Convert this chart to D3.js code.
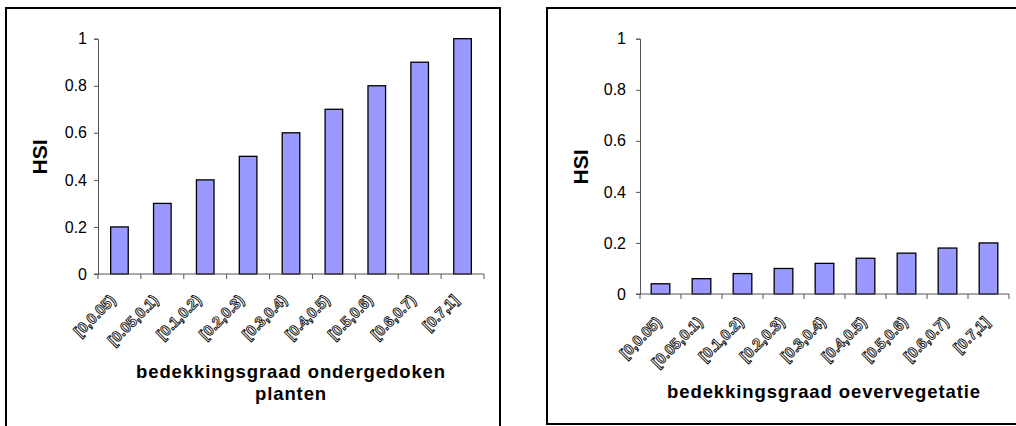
<!DOCTYPE html>
<html><head><meta charset="utf-8">
<script src="https://cdn.jsdelivr.net/npm/d3@7"></script>
<style>body{margin:0;background:#fff}svg{display:block}text{font-family:"Liberation Sans",Arial,sans-serif}</style>
</head><body>
<svg id="c" width="1016" height="426"></svg>
<script>
const categories = ["[0,0.05)", "[0.05,0.1)", "[0.1,0.2)", "[0.2,0.3)", "[0.3,0.4)", "[0.4,0.5)", "[0.5,0.6)", "[0.6,0.7)", "[0.7,1]"];
const hsiOndergedoken = [0.2, 0.3, 0.4, 0.5, 0.6, 0.7, 0.8, 0.9, 1.0];
const hsiOever = [0.04, 0.06, 0.08, 0.1, 0.12, 0.14, 0.16, 0.18, 0.2];
const yTicks = [0, 0.2, 0.4, 0.6, 0.8, 1];
const yLabel = "HSI";
const xTitleLeft = ["bedekkingsgraad ondergedoken", "planten"];
const xTitleRight = ["bedekkingsgraad oevervegetatie"];

const svg = d3.select("#c");

function panel(cfg) {
  svg.append("rect").attr("x", cfg.box[0]).attr("y", cfg.box[1]).attr("width", cfg.box[2]).attr("height", cfg.box[3])
    .attr("fill", "#fff").attr("stroke", "#000").attr("stroke-width", 2);
  const g = svg.append("g");
  const pi = cfg.padInner;
  const x = d3.scaleBand().domain(categories).range([cfg.x0, cfg.x1]).paddingInner(pi).paddingOuter(pi / 2);
  const xb = d3.scaleBand().domain(categories).range([cfg.x0, cfg.x1]);
  const y = d3.scaleLinear().domain([0, 1]).range([cfg.y0, cfg.y1]);
  g.selectAll("rect.bar").data(cfg.values).join("rect").attr("class", "bar")
    .attr("x", (d, i) => x(categories[i])).attr("width", x.bandwidth())
    .attr("y", d => y(d)).attr("height", d => y(0) - y(d))
    .attr("fill", "#9999ff").attr("stroke", "#000").attr("stroke-width", 1.3);
  const ya = g.append("g").attr("transform", `translate(${cfg.x0},0)`)
    .call(d3.axisLeft(y).tickValues(yTicks).tickFormat(d3.format("")).tickSize(4).tickPadding(cfg.ypad));
  ya.select(".domain").attr("stroke", "#555");
  ya.selectAll(".tick line").attr("stroke", "#555");
  ya.selectAll("text").attr("font-size", 16).attr("fill", "#000");
  const xTickPos = categories.map(c => xb(c)).concat([cfg.x1]);
  const xa = g.append("g").attr("transform", `translate(0,${cfg.y0})`);
  xa.append("line").attr("x1", cfg.x0 - 4).attr("x2", cfg.x1).attr("stroke", "#555");
  xa.selectAll("line.t").data(xTickPos).join("line").attr("class", "t")
    .attr("x1", d => d).attr("x2", d => d).attr("y1", 0).attr("y2", 5).attr("stroke", "#555");
  xa.selectAll("text").data(categories).join("text")
    .attr("transform", c => `translate(${xb(c) + xb.bandwidth() / 2 + cfg.ldx},${cfg.ldy}) rotate(-45)`)
    .attr("text-anchor", "end").attr("font-size", 15).attr("font-weight", "bold")
    .attr("fill", "#fff").attr("stroke", "#111").attr("stroke-width", 0.9)
    .text(c => c);
  svg.append("text").attr("transform", `translate(${cfg.hsi[0]},${cfg.hsi[1]}) rotate(-90)`)
    .attr("text-anchor", "middle").attr("font-size", 21).attr("font-weight", "bold").text(yLabel);
  svg.selectAll(null).data(cfg.title).join("text").attr("x", cfg.tx).attr("y", (d, i) => cfg.ty + i * 22)
    .attr("text-anchor", "middle").attr("font-size", 18.5).attr("font-weight", "bold")
    .attr("letter-spacing", 0.9).attr("fill", "#000").text(d => d);
}

panel({ box: [6, 8, 494, 430], x0: 98, x1: 484, y0: 274, y1: 38.7, values: hsiOndergedoken, padInner: 0.59, ypad: 7,
  ldx: -3, ldy: 27, hsi: [46.5, 157], tx: 291, ty: 378, title: xTitleLeft });
panel({ box: [547, 8, 480, 416], x0: 640, x1: 1009, y0: 294, y1: 38.7, values: hsiOever, padInner: 0.545, ypad: 10,
  ldx: 2, ldy: 29, hsi: [588, 167], tx: 824, ty: 398, title: xTitleRight });
</script>
</body></html>
